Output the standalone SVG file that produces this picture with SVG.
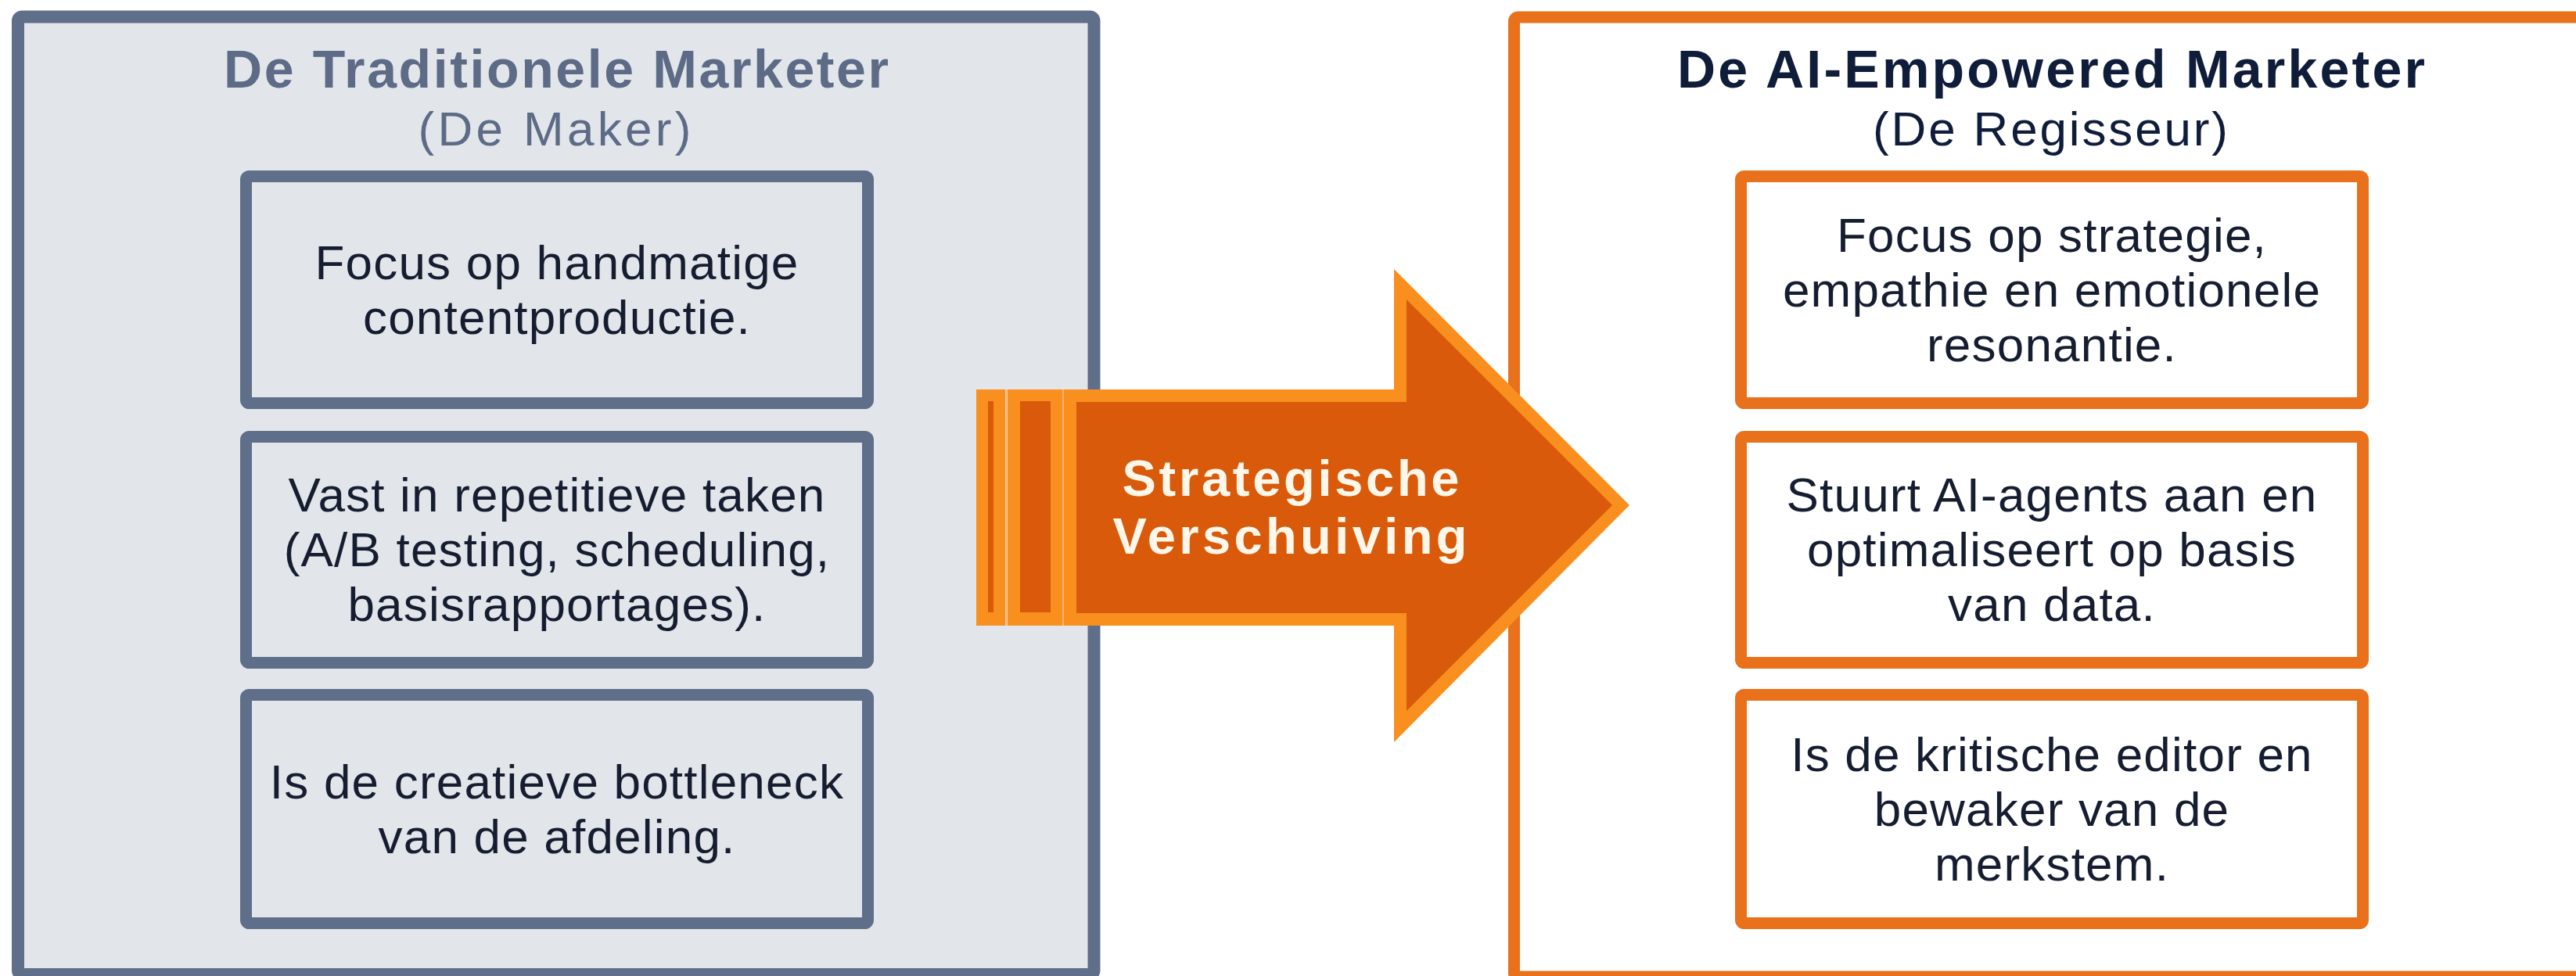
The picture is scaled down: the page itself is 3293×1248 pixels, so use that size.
<svg xmlns="http://www.w3.org/2000/svg" width="3293" height="1248" viewBox="0 0 3293 1248">
  <style>
    .title { font-family: "Liberation Sans", Arial, sans-serif; font-weight: 700; font-size: 68px; text-anchor: middle; }
    .sub { font-family: "Liberation Sans", Arial, sans-serif; font-weight: 400; font-size: 62px; text-anchor: middle; }
    .body { font-family: "Liberation Sans", Arial, sans-serif; font-weight: 400; font-size: 62px; letter-spacing: 1.2px; text-anchor: middle; fill: #161d30; }
    .arrowtxt { font-family: "Liberation Sans", Arial, sans-serif; font-weight: 700; font-size: 65px; text-anchor: middle; fill: #fff7ea; }
    .slate { fill: #5d6b86; }
    .navy { fill: #0f1c3a; }
    .panelL { fill: #e2e6eb; stroke: #5f6e89; stroke-width: 16; }
    .panelR { fill: #ffffff; stroke: #e9711b; stroke-width: 15; }
    .boxL { fill: #e2e6eb; stroke: #5f6e89; stroke-width: 15; }
    .boxR { fill: #ffffff; stroke: #e9711b; stroke-width: 15; }
    .light { fill: #f88f1f; }
    .dark { fill: #d95a0a; }
  </style>
  <rect x="0" y="0" width="3293" height="1248" fill="#ffffff"/>

  <g id="panel-traditional">
    <rect class="panelL" x="23" y="21.5" width="1375.5" height="1224.5" rx="5"/>
    <text class="title slate" x="711" y="112" textLength="850">De Traditionele Marketer</text>
    <text class="sub slate" x="709" y="186" textLength="349">(De Maker)</text>
  </g>

  <g id="panel-ai">
    <rect class="panelR" x="1935.5" y="22" width="1400" height="1227" rx="5"/>
    <text class="title navy" x="2622" y="112" textLength="956">De AI-Empowered Marketer</text>
    <text class="sub navy" x="2621" y="186" textLength="454">(De Regisseur)</text>
  </g>

  <g id="node-l1">
    <rect class="boxL" x="314.5" y="225.5" width="795" height="290" rx="4"/>
    <text class="body" x="712"><tspan x="712" y="357">Focus op handmatige</tspan><tspan x="712" y="427">contentproductie.</tspan></text>
  </g>
  <g id="node-l2">
    <rect class="boxL" x="314.5" y="558.5" width="795" height="289" rx="4"/>
    <text class="body" x="712"><tspan x="712" y="654">Vast in repetitieve taken</tspan><tspan x="712" y="724">(A/B testing, scheduling,</tspan><tspan x="712" y="794">basisrapportages).</tspan></text>
  </g>
  <g id="node-l3">
    <rect class="boxL" x="314.5" y="888.5" width="795" height="292" rx="4"/>
    <text class="body" x="712"><tspan x="712" y="1021">Is de creatieve bottleneck</tspan><tspan x="712" y="1091">van de afdeling.</tspan></text>
  </g>

  <g id="node-r1">
    <rect class="boxR" x="2225.5" y="225.5" width="795" height="290" rx="4"/>
    <text class="body" x="2623"><tspan x="2623" y="322">Focus op strategie,</tspan><tspan x="2623" y="392">empathie en emotionele</tspan><tspan x="2623" y="462">resonantie.</tspan></text>
  </g>
  <g id="node-r2">
    <rect class="boxR" x="2225.5" y="558.5" width="795" height="289" rx="4"/>
    <text class="body" x="2623"><tspan x="2623" y="654">Stuurt AI-agents aan en</tspan><tspan x="2623" y="724">optimaliseert op basis</tspan><tspan x="2623" y="794">van data.</tspan></text>
  </g>
  <g id="node-r3">
    <rect class="boxR" x="2225.5" y="888.5" width="795" height="292" rx="4"/>
    <text class="body" x="2623"><tspan x="2623" y="986">Is de kritische editor en</tspan><tspan x="2623" y="1056">bewaker van de</tspan><tspan x="2623" y="1126">merkstem.</tspan></text>
  </g>

  <g id="connectors">
    <g id="shift-arrow">
      <rect class="light" x="1248" y="498" width="37" height="302"/>
      <rect class="dark" x="1263" y="513" width="7" height="270"/>
      <rect class="light" x="1288" y="498" width="70" height="302"/>
      <rect class="dark" x="1304" y="513" width="39" height="270"/>
      <line x1="1286.5" y1="498" x2="1286.5" y2="800" stroke="#fbb46a" stroke-width="2"/>
      <line x1="1359" y1="498" x2="1359" y2="800" stroke="#fbb46a" stroke-width="2"/>
      <polygon class="light" points="1360,498 1782,498 1782,344 2083,646 1782,949 1782,800 1360,800"/>
      <polygon class="dark" points="1376,514 1798,514 1798,383 2061,646 1798,909 1798,784 1376,784"/>
      <text class="arrowtxt" x="1650" y="634" textLength="431">Strategische</text>
      <text class="arrowtxt" x="1649" y="708" textLength="453">Verschuiving</text>
    </g>
  </g>
</svg>
